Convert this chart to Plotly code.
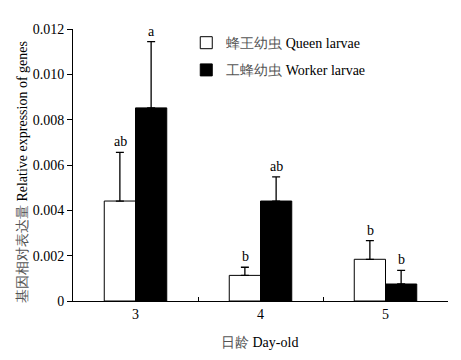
import plotly.graph_objects as go

days = ["3", "4", "5"]
queen = [0.00441, 0.00113, 0.00184]
queen_err = [0.00215, 0.00036, 0.00082]
worker = [0.00852, 0.00441, 0.00075]
worker_err = [0.00292, 0.00107, 0.00060]
queen_letters = ["ab", "b", "b"]
worker_letters = ["a", "ab", "b"]

FONT = "Liberation Serif"
CN = "<span style='color:#555'>{}</span>"

fig = go.Figure()
fig.add_trace(go.Bar(
    x=days, y=queen, name=CN.format("蜂王幼虫") + " Queen larvae",
    marker=dict(color="white", line=dict(color="black", width=1)),
    error_y=dict(type="data", array=queen_err, arrayminus=[0, 0, 0], color="black", thickness=1.3, width=4),
    legendgroup="q",
))
fig.add_trace(go.Bar(
    x=days, y=worker, name=CN.format("工蜂幼虫") + " Worker larvae",
    marker=dict(color="black", line=dict(color="black", width=1)),
    error_y=dict(type="data", array=worker_err, arrayminus=[0, 0, 0], color="black", thickness=1.3, width=4),
    legendgroup="w",
))

for i, d in enumerate(days):
    fig.add_annotation(x=i, y=queen[i] + queen_err[i], text=queen_letters[i], xshift=-15.5,
                       yanchor="bottom", yshift=1, showarrow=False,
                       font=dict(family=FONT, size=14, color="black"))
    fig.add_annotation(x=i, y=worker[i] + worker_err[i], text=worker_letters[i], xshift=15.5,
                       yanchor="bottom", yshift=1, showarrow=False,
                       font=dict(family=FONT, size=14, color="black"))

# axis titles
fig.add_annotation(xref="paper", yref="paper", x=-0.136, y=0.474, textangle=-90,
                   text=CN.format("基因相对表达量") + " Relative expression of genes",
                   showarrow=False, font=dict(family=FONT, size=14, color="black"),
                   xanchor="center", yanchor="middle")
fig.add_annotation(xref="paper", yref="paper", x=0.496, y=-0.151,
                   text=CN.format("日龄") + " Day-old",
                   showarrow=False, font=dict(family=FONT, size=14, color="black"),
                   xanchor="center", yanchor="middle")

fig.update_layout(
    width=453, height=352,
    margin=dict(l=65, r=13, t=21, b=59),
    paper_bgcolor="white", plot_bgcolor="white",
    font=dict(family=FONT, size=14, color="black"),
    barmode="group", bargap=0.5, bargroupgap=0,
    showlegend=True,
    legend=dict(x=0.302, y=1.007, xanchor="left", yanchor="top", bgcolor="rgba(0,0,0,0)",
                font=dict(family=FONT, size=14), tracegroupgap=6, itemwidth=30),
    xaxis=dict(
        type="category", range=[-0.5, 2.5],
        showline=True, linecolor="black", linewidth=1,
        ticks="inside", ticklen=4, tickcolor="black", tickson="boundaries",
        showgrid=False, zeroline=False,
        tickfont=dict(family=FONT, size=14),
    ),
    yaxis=dict(
        range=[0, 0.012], tickvals=[0, 0.002, 0.004, 0.006, 0.008, 0.010, 0.012],
        ticktext=["0", "0.002", "0.004", "0.006", "0.008", "0.010", "0.012"],
        showline=True, linecolor="black", linewidth=1,
        ticks="outside", ticklen=5, tickcolor="black",
        showgrid=False, zeroline=False,
        tickfont=dict(family=FONT, size=14),
    ),
)

fig.write_html("out.html")
